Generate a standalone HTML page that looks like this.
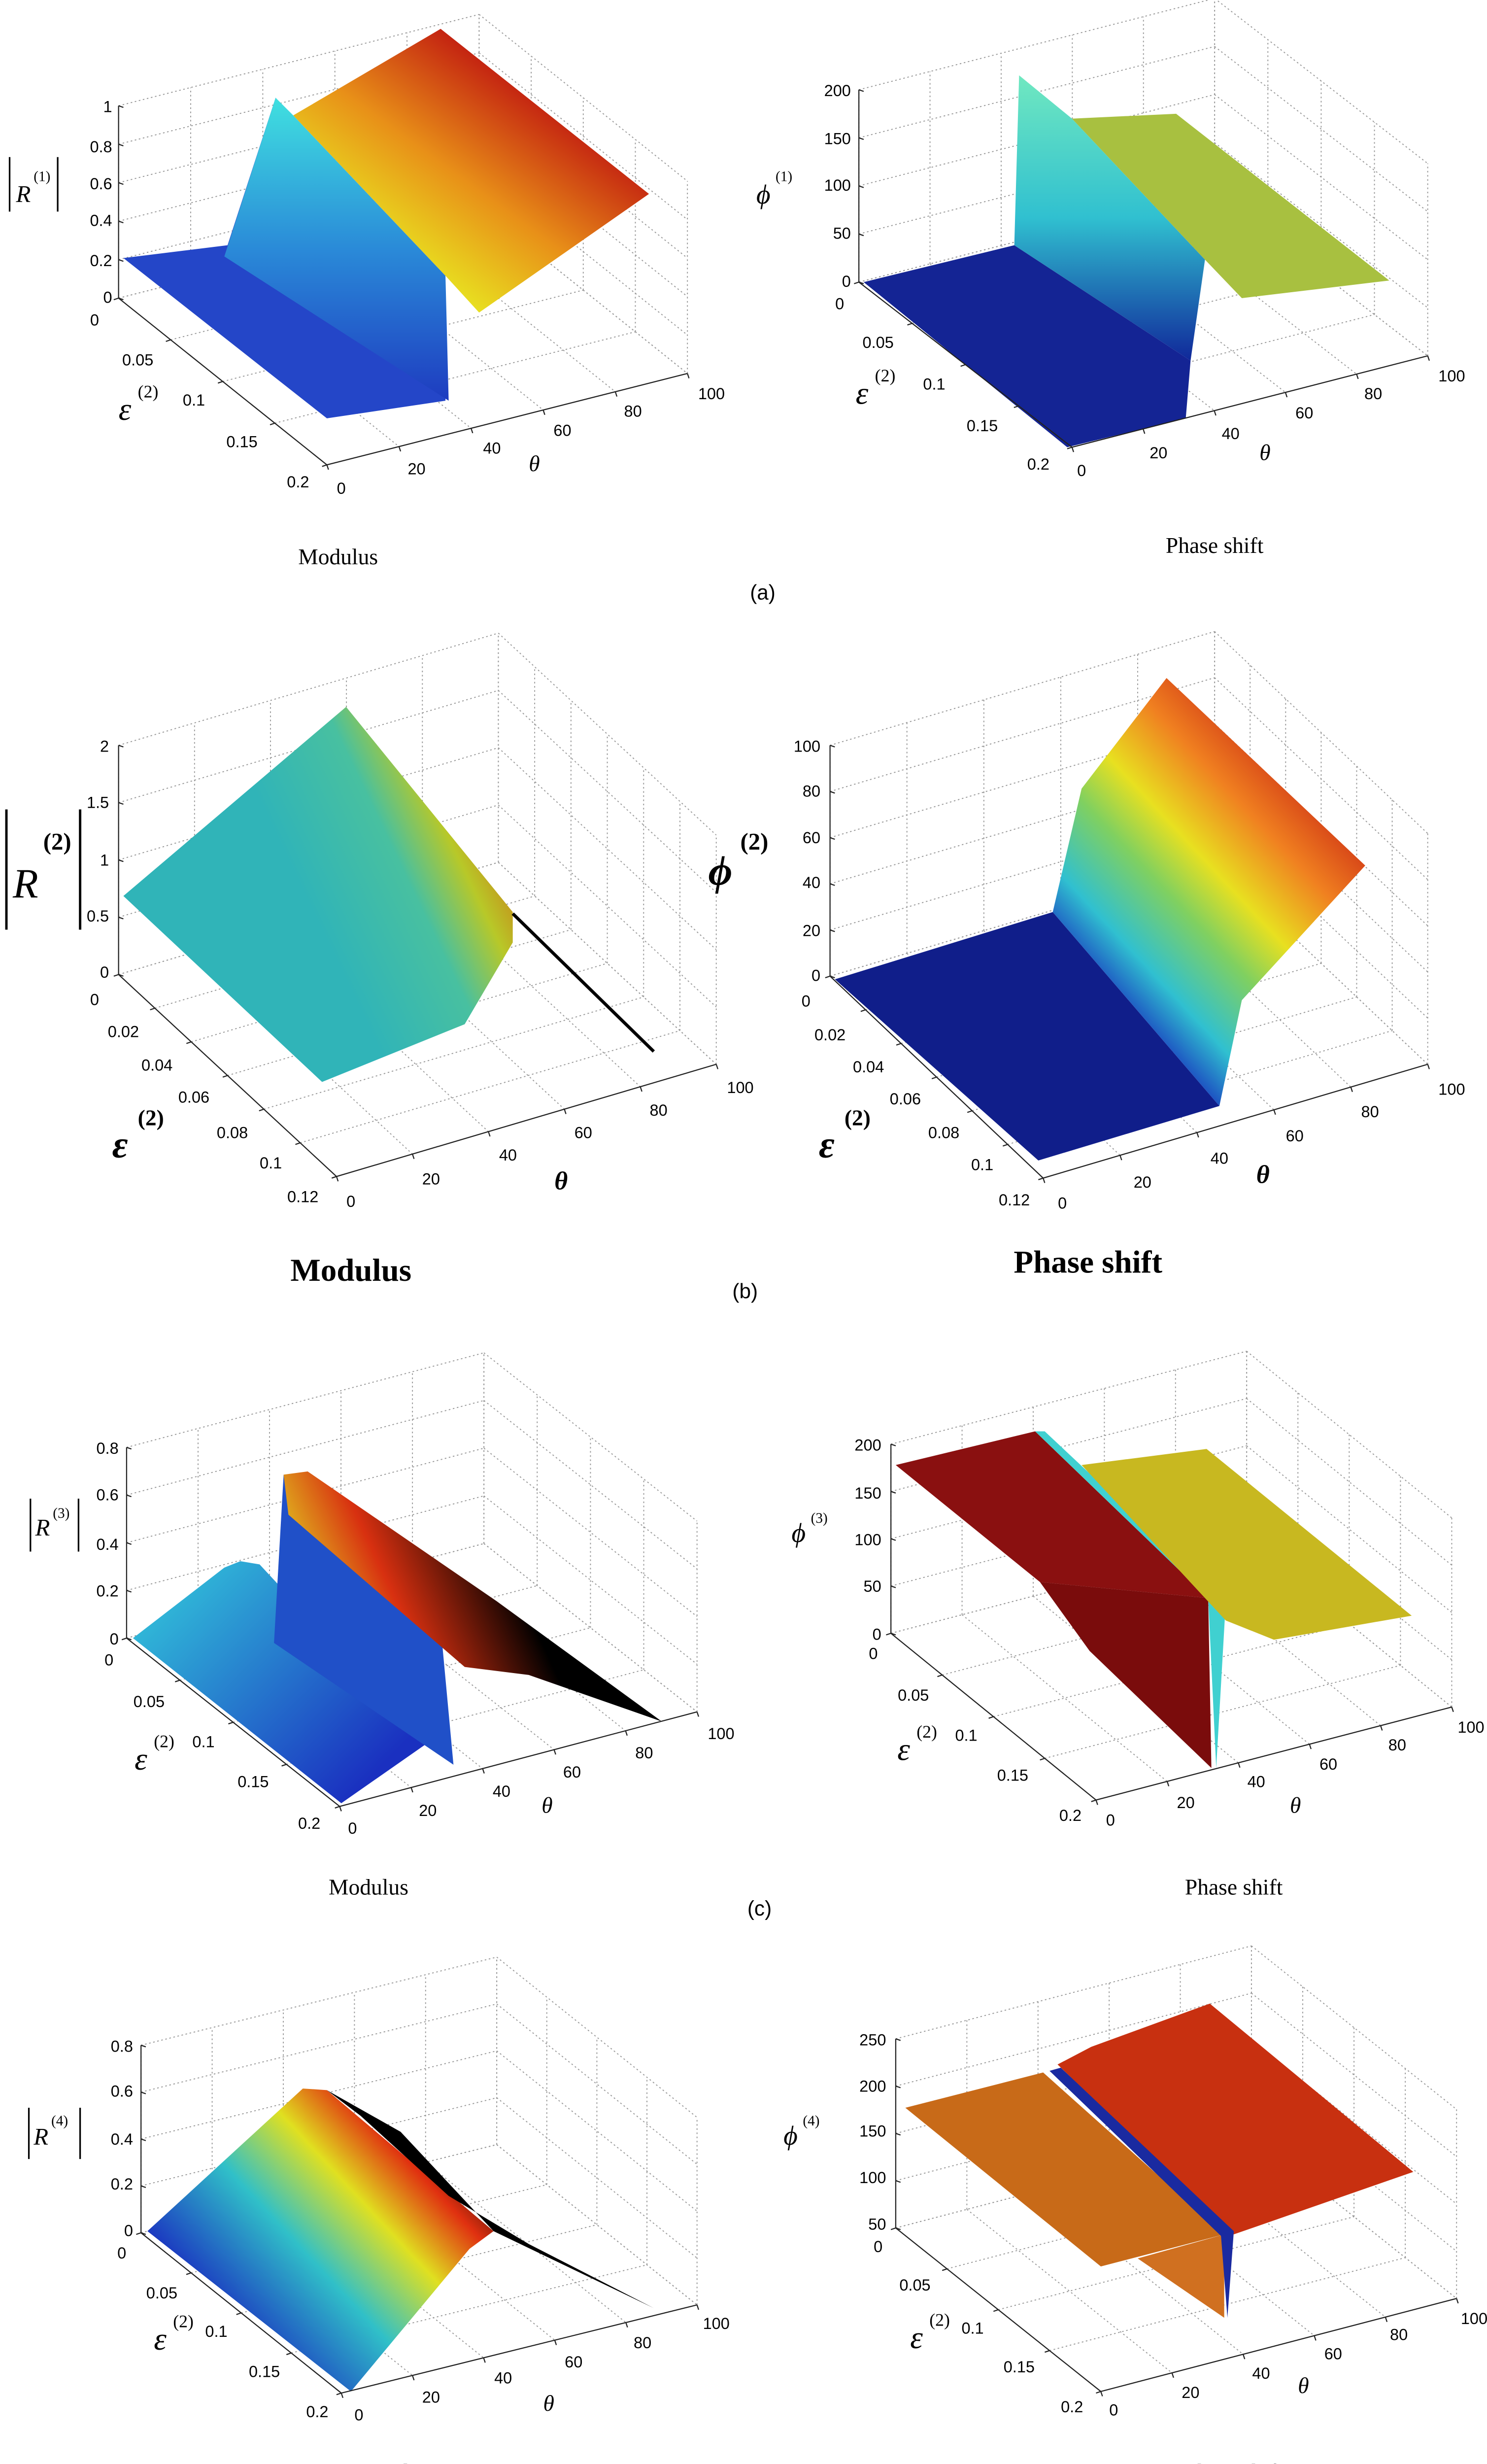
<!DOCTYPE html>
<html><head><meta charset="utf-8">
<style>
html,body{margin:0;padding:0;background:#fff;width:3018px;height:5100px;overflow:hidden;}
svg{display:block;}
.t{font-family:"Liberation Sans",sans-serif;font-size:10px;fill:#000;}
.ts{font-family:"Liberation Serif",serif;font-style:italic;fill:#000;}
.ti{font-family:"Liberation Serif",serif;font-size:14px;fill:#000;}
.tb{font-family:"Liberation Serif",serif;font-size:20px;font-weight:bold;fill:#000;}
.pl{font-family:"Liberation Sans",sans-serif;font-size:13px;fill:#000;}
</style></head>
<body>
<svg xmlns="http://www.w3.org/2000/svg" width="3018" height="5100" viewBox="0 0 928 1568" preserveAspectRatio="none">
<defs>
<linearGradient id="gaw" gradientUnits="userSpaceOnUse" x1="0" y1="61" x2="0" y2="250"><stop offset="0" stop-color="#40e0e0"/><stop offset="0.5" stop-color="#2a8ad8"/><stop offset="1" stop-color="#1e3cc0"/></linearGradient>
<linearGradient id="gao" gradientUnits="userSpaceOnUse" x1="285" y1="185" x2="365" y2="75"><stop offset="0" stop-color="#e8e020"/><stop offset="0.45" stop-color="#e89018"/><stop offset="1" stop-color="#c01810"/></linearGradient>
<linearGradient id="gbw" gradientUnits="userSpaceOnUse" x1="0" y1="47" x2="0" y2="225"><stop offset="0" stop-color="#70e8c0"/><stop offset="0.5" stop-color="#30c0d0"/><stop offset="1" stop-color="#10289a"/></linearGradient>
<linearGradient id="gbl" gradientUnits="userSpaceOnUse" x1="200" y1="580" x2="325" y2="520"><stop offset="0" stop-color="#30b4b8"/><stop offset="0.45" stop-color="#48c0a0"/><stop offset="0.7" stop-color="#b8c828"/><stop offset="1" stop-color="#d06010"/></linearGradient>
<linearGradient id="gbr" gradientUnits="userSpaceOnUse" x1="680" y1="610" x2="830" y2="470"><stop offset="0" stop-color="#1a40c0"/><stop offset="0.15" stop-color="#30c0d0"/><stop offset="0.35" stop-color="#80d060"/><stop offset="0.5" stop-color="#e8e020"/><stop offset="0.7" stop-color="#f08020"/><stop offset="1" stop-color="#c01010"/></linearGradient>
<linearGradient id="gcr" gradientUnits="userSpaceOnUse" x1="110" y1="990" x2="230" y2="1110"><stop offset="0" stop-color="#30b8d8"/><stop offset="1" stop-color="#1a30c0"/></linearGradient>
<linearGradient id="gct" gradientUnits="userSpaceOnUse" x1="190" y1="990" x2="300" y2="940"><stop offset="0" stop-color="#e0c020"/><stop offset="0.4" stop-color="#d83010"/><stop offset="1" stop-color="#000"/></linearGradient>
<linearGradient id="gdl" gradientUnits="userSpaceOnUse" x1="150" y1="1460" x2="290" y2="1330"><stop offset="0" stop-color="#1a30c0"/><stop offset="0.35" stop-color="#30c0c8"/><stop offset="0.6" stop-color="#e0e020"/><stop offset="0.8" stop-color="#e03010"/><stop offset="1" stop-color="#000"/></linearGradient>
</defs>
<g id="grid"></g>

<!-- (a) left -->
<polygon points="77,161 142,153 172,61 278,190 278,250 204,261" fill="#2446c8"/>
<polygon points="140,160 172,61 183,72 278,172 280,250" fill="url(#gaw)"/>
<polygon points="183,72 275,18 405,121 299,195 278,172" fill="url(#gao)"/>
<!-- (a) right -->
<polygon points="539,176 633,153 743,225 740,261 666,279" fill="#142494"/>
<polygon points="633,153 636,47 669,74 752,162 743,225" fill="url(#gbw)"/>
<polygon points="669,74 734,71 867,175 775,186 752,162" fill="#a8c040"/>
<!-- (b) left -->
<polygon points="77,559 216,441 320,569 320,588 290,639 201,675" fill="url(#gbl)"/>
<line x1="320" y1="570" x2="408" y2="656" stroke="#000" stroke-width="2"/>
<!-- (b) right -->
<polygon points="521,611 657,569 761,690 648,724" fill="#101e8a"/>
<polygon points="657,569 675,492 728,423 852,540 775,624 761,690" fill="url(#gbr)"/>
<!-- (c) left -->
<polygon points="83,1022 140,978 150,974 162,976 266,1088 213,1125" fill="url(#gcr)"/>
<polygon points="171,1025 177,920 275,1015 283,1101" fill="#2050c8"/>
<polygon points="177,920 192,918 310,999 413,1074 330,1045 290,1040 180,945" fill="url(#gct)"/>
<!-- (c) right -->
<polygon points="559,914 646,893 754,997 649,987" fill="#8a1010"/>
<polygon points="649,987 754,997 756,1103 680,1030" fill="#7a0c0c"/>
<polygon points="646,893 652,893 765,999 759,1103 754,997" fill="#40d0d0"/>
<polygon points="675,914 753,904 881,1008 795,1023 765,1011" fill="#c8b820"/>
<!-- (d) left -->
<polygon points="92,1392 189,1303 204,1304 308,1392 293,1403 219,1492" fill="url(#gdl)"/>
<polygon points="204,1304 250,1330 308,1392 408,1440 330,1400 280,1370 225,1320" fill="#000"/>
<!-- (d) right -->
<polygon points="565,1315 651,1293 764,1394 687,1414" fill="#c86a18"/>
<polygon points="710,1409 764,1394 764,1446" fill="#d07020"/>
<polygon points="660,1288 681,1277 755,1250 882,1355 770,1394" fill="#c83010"/>
<polygon points="655,1292 662,1290 770,1392 766,1446 762,1395" fill="#1a2aa0"/>

<g id="axes"></g>

<!-- ===== text (a) left ===== -->
<g class="t" text-anchor="end">
<text x="70" y="70">1</text><text x="70" y="95">0.8</text><text x="70" y="118">0.6</text><text x="70" y="141">0.4</text><text x="70" y="166">0.2</text><text x="70" y="189">0</text>
</g>
<g class="t" text-anchor="middle">
<text x="59" y="203">0</text><text x="86" y="228">0.05</text><text x="121" y="253">0.1</text><text x="151" y="279">0.15</text><text x="186" y="304">0.2</text>
<text x="213" y="308">0</text><text x="260" y="296">20</text><text x="307" y="283">40</text><text x="351" y="272">60</text><text x="395" y="260">80</text><text x="444" y="249">100</text>
</g>
<line x1="6" y1="98" x2="6" y2="132" stroke="#000" stroke-width="1"/><line x1="36" y1="98" x2="36" y2="132" stroke="#000" stroke-width="1"/>
<text class="ts" x="10" y="126" font-size="15">R</text><text class="ts" x="21" y="113" font-size="9" style="font-style:normal">(1)</text>
<text class="ts" x="74" y="262" font-size="20">ε</text><text class="ts" x="86" y="248" font-size="11" style="font-style:normal">(2)</text>
<text class="ts" x="330" y="294" font-size="14">θ</text>

<!-- (a) right -->
<g class="t" text-anchor="end">
<text x="531" y="60">200</text><text x="531" y="90">150</text><text x="531" y="119">100</text><text x="531" y="149">50</text><text x="531" y="179">0</text>
</g>
<g class="t" text-anchor="middle">
<text x="524" y="193">0</text><text x="548" y="217">0.05</text><text x="583" y="243">0.1</text><text x="613" y="269">0.15</text><text x="648" y="293">0.2</text>
<text x="675" y="297">0</text><text x="723" y="286">20</text><text x="768" y="274">40</text><text x="814" y="261">60</text><text x="857" y="249">80</text><text x="906" y="238">100</text>
</g>
<text class="ts" x="472" y="127" font-size="17">ϕ</text><text class="ts" x="484" y="113" font-size="9" style="font-style:normal">(1)</text>
<text class="ts" x="534" y="252" font-size="20">ε</text><text class="ts" x="546" y="238" font-size="11" style="font-style:normal">(2)</text>
<text class="ts" x="786" y="287" font-size="14">θ</text>

<text class="ti" x="211" y="352" text-anchor="middle">Modulus</text>
<text class="ti" x="758" y="345" text-anchor="middle">Phase shift</text>
<text class="pl" x="476" y="374" text-anchor="middle">(a)</text>

<!-- ===== (b) left ===== -->
<g class="t" text-anchor="end">
<text x="68" y="469">2</text><text x="68" y="504">1.5</text><text x="68" y="540">1</text><text x="68" y="575">0.5</text><text x="68" y="610">0</text>
</g>
<g class="t" text-anchor="middle">
<text x="59" y="627">0</text><text x="77" y="647">0.02</text><text x="98" y="668">0.04</text><text x="121" y="688">0.06</text><text x="145" y="710">0.08</text><text x="169" y="729">0.1</text><text x="189" y="750">0.12</text>
<text x="219" y="753">0</text><text x="269" y="739">20</text><text x="317" y="724">40</text><text x="364" y="710">60</text><text x="411" y="696">80</text><text x="462" y="682">100</text>
</g>
<line x1="4" y1="505" x2="4" y2="580" stroke="#000" stroke-width="1.5"/><line x1="50" y1="505" x2="50" y2="580" stroke="#000" stroke-width="1.5"/>
<text class="ts" x="8" y="560" font-size="26">R</text><text class="ts" x="27" y="530" font-size="15" style="font-style:normal;font-weight:bold">(2)</text>
<text class="ts" x="70" y="722" font-size="24" font-weight="bold">ε</text><text class="ts" x="86" y="702" font-size="14" style="font-style:normal;font-weight:bold">(2)</text>
<text class="ts" x="346" y="742" font-size="16" font-weight="bold">θ</text>

<!-- (b) right -->
<g class="t" text-anchor="end">
<text x="512" y="469">100</text><text x="512" y="497">80</text><text x="512" y="526">60</text><text x="512" y="554">40</text><text x="512" y="584">20</text><text x="512" y="612">0</text>
</g>
<g class="t" text-anchor="middle">
<text x="503" y="628">0</text><text x="518" y="649">0.02</text><text x="542" y="669">0.04</text><text x="565" y="689">0.06</text><text x="589" y="710">0.08</text><text x="613" y="730">0.1</text><text x="633" y="752">0.12</text>
<text x="663" y="754">0</text><text x="713" y="741">20</text><text x="761" y="726">40</text><text x="808" y="712">60</text><text x="855" y="697">80</text><text x="906" y="683">100</text>
</g>
<text class="ts" x="442" y="552" font-size="26" font-weight="bold">ϕ</text><text class="ts" x="462" y="530" font-size="15" style="font-style:normal;font-weight:bold">(2)</text>
<text class="ts" x="511" y="722" font-size="24" font-weight="bold">ε</text><text class="ts" x="527" y="702" font-size="14" style="font-style:normal;font-weight:bold">(2)</text>
<text class="ts" x="784" y="738" font-size="16" font-weight="bold">θ</text>

<text class="tb" x="219" y="799" text-anchor="middle">Modulus</text>
<text class="tb" x="679" y="794" text-anchor="middle">Phase shift</text>
<text class="pl" x="465" y="810" text-anchor="middle">(b)</text>

<!-- ===== (c) left ===== -->
<g class="t" text-anchor="end">
<text x="74" y="907">0.8</text><text x="74" y="936">0.6</text><text x="74" y="967">0.4</text><text x="74" y="996">0.2</text><text x="74" y="1026">0</text>
</g>
<g class="t" text-anchor="middle">
<text x="68" y="1039">0</text><text x="93" y="1065">0.05</text><text x="127" y="1090">0.1</text><text x="158" y="1115">0.15</text><text x="193" y="1141">0.2</text>
<text x="220" y="1144">0</text><text x="267" y="1133">20</text><text x="313" y="1121">40</text><text x="357" y="1109">60</text><text x="402" y="1097">80</text><text x="450" y="1085">100</text>
</g>
<line x1="19" y1="935" x2="19" y2="968" stroke="#000" stroke-width="1"/><line x1="49" y1="935" x2="49" y2="968" stroke="#000" stroke-width="1"/>
<text class="ts" x="22" y="958" font-size="15">R</text><text class="ts" x="33" y="947" font-size="9" style="font-style:normal">(3)</text>
<text class="ts" x="84" y="1104" font-size="20">ε</text><text class="ts" x="96" y="1090" font-size="11" style="font-style:normal">(2)</text>
<text class="ts" x="338" y="1131" font-size="14">θ</text>

<!-- (c) right -->
<g class="t" text-anchor="end">
<text x="550" y="905">200</text><text x="550" y="935">150</text><text x="550" y="964">100</text><text x="550" y="993">50</text><text x="550" y="1023">0</text>
</g>
<g class="t" text-anchor="middle">
<text x="545" y="1035">0</text><text x="570" y="1061">0.05</text><text x="603" y="1086">0.1</text><text x="632" y="1111">0.15</text><text x="668" y="1136">0.2</text>
<text x="693" y="1139">0</text><text x="740" y="1128">20</text><text x="784" y="1115">40</text><text x="829" y="1104">60</text><text x="872" y="1092">80</text><text x="918" y="1081">100</text>
</g>
<text class="ts" x="494" y="962" font-size="17">ϕ</text><text class="ts" x="506" y="950" font-size="9" style="font-style:normal">(3)</text>
<text class="ts" x="560" y="1098" font-size="20">ε</text><text class="ts" x="572" y="1084" font-size="11" style="font-style:normal">(2)</text>
<text class="ts" x="805" y="1131" font-size="14">θ</text>

<text class="ti" x="230" y="1182" text-anchor="middle">Modulus</text>
<text class="ti" x="770" y="1182" text-anchor="middle">Phase shift</text>
<text class="pl" x="474" y="1195" text-anchor="middle">(c)</text>

<!-- ===== (d) left ===== -->
<g class="t" text-anchor="end">
<text x="83" y="1280">0.8</text><text x="83" y="1308">0.6</text><text x="83" y="1338">0.4</text><text x="83" y="1366">0.2</text><text x="83" y="1395">0</text>
</g>
<g class="t" text-anchor="middle">
<text x="76" y="1409">0</text><text x="101" y="1434">0.05</text><text x="135" y="1458">0.1</text><text x="165" y="1483">0.15</text><text x="198" y="1508">0.2</text>
<text x="224" y="1510">0</text><text x="269" y="1499">20</text><text x="314" y="1487">40</text><text x="358" y="1477">60</text><text x="401" y="1465">80</text><text x="447" y="1453">100</text>
</g>
<line x1="18" y1="1315" x2="18" y2="1347" stroke="#000" stroke-width="1"/><line x1="50" y1="1315" x2="50" y2="1347" stroke="#000" stroke-width="1"/>
<text class="ts" x="21" y="1338" font-size="15">R</text><text class="ts" x="32" y="1326" font-size="9" style="font-style:normal">(4)</text>
<text class="ts" x="96" y="1466" font-size="20">ε</text><text class="ts" x="108" y="1452" font-size="11" style="font-style:normal">(2)</text>
<text class="ts" x="339" y="1504" font-size="14">θ</text>

<!-- (d) right -->
<g class="t" text-anchor="end">
<text x="553" y="1276">250</text><text x="553" y="1305">200</text><text x="553" y="1333">150</text><text x="553" y="1362">100</text><text x="553" y="1391">50</text>
</g>
<g class="t" text-anchor="middle">
<text x="548" y="1405">0</text><text x="571" y="1429">0.05</text><text x="607" y="1456">0.1</text><text x="636" y="1480">0.15</text><text x="669" y="1505">0.2</text>
<text x="695" y="1507">0</text><text x="743" y="1496">20</text><text x="787" y="1484">40</text><text x="832" y="1472">60</text><text x="873" y="1460">80</text><text x="920" y="1450">100</text>
</g>
<text class="ts" x="489" y="1338" font-size="17">ϕ</text><text class="ts" x="501" y="1326" font-size="9" style="font-style:normal">(4)</text>
<text class="ts" x="568" y="1465" font-size="20">ε</text><text class="ts" x="580" y="1451" font-size="11" style="font-style:normal">(2)</text>
<text class="ts" x="810" y="1493" font-size="14">θ</text>

<text class="ti" x="243" y="1547" text-anchor="middle">Modulus</text>
<text class="ti" x="770" y="1547" text-anchor="middle">Phase shift</text>
<text class="pl" x="484" y="1563" text-anchor="middle">(d)</text>
</svg>
<script>
(function(){
var NS="http://www.w3.org/2000/svg";
var grid=document.getElementById("grid"),axes=document.getElementById("axes");
function ln(g,a,b,st,w,dash){var l=document.createElementNS(NS,"line");l.setAttribute("x1",a[0]);l.setAttribute("y1",a[1]);l.setAttribute("x2",b[0]);l.setAttribute("y2",b[1]);l.setAttribute("stroke",st);l.setAttribute("stroke-width",w);if(dash)l.setAttribute("stroke-dasharray",dash);g.appendChild(l);}
function lerp(a,b,t){return [a[0]+(b[0]-a[0])*t,a[1]+(b[1]-a[1])*t];}
function up(p,h){return [p[0],p[1]-h];}
var P=[
[[74,186],[204,290],[429,233],120,5,4,5],
[[536,176],[669,279],[891,222],120,4,4,5],
[[74,608],[210,734],[447,664],143,4,6,5],
[[518,609],[651,735],[891,664],144,5,6,5],
[[79,1022],[212,1127],[435,1068],119,4,4,5],
[[556,1019],[684,1123],[906,1065],118,4,4,5],
[[88,1393],[213,1493],[435,1438],117,4,4,5],
[[559,1390],[687,1492],[909,1434],118,4,4,5]
];
P.forEach(function(p){
var L=p[0],F=p[1],R=p[2],h=p[3],nz=p[4],ne=p[5],nt=p[6];
var B=[L[0]+R[0]-F[0],L[1]+R[1]-F[1]];
var c="#9a9a9a",w=0.6,d="1,1.6";
for(var k=0;k<=nz;k++){var z=h*k/nz;ln(grid,up(L,z),up(B,z),c,w,d);ln(grid,up(B,z),up(R,z),c,w,d);}
for(var j=0;j<=nt;j++){var t=j/nt;var a=lerp(L,B,t);ln(grid,a,up(a,h),c,w,d);ln(grid,a,lerp(F,R,t),c,w,d);}
for(var i=0;i<=ne;i++){var s=i/ne;var b=lerp(B,R,s);ln(grid,b,up(b,h),c,w,d);ln(grid,lerp(L,F,s),b,c,w,d);}
ln(axes,L,up(L,h),"#222",0.7);ln(axes,L,F,"#222",0.7);ln(axes,F,R,"#222",0.7);
for(var k2=0;k2<=nz;k2++){var q=up(L,h*k2/nz);ln(axes,q,[q[0]+3,q[1]+1],"#222",0.7);}
for(var i2=0;i2<=ne;i2++){var q2=lerp(L,F,i2/ne);ln(axes,q2,[q2[0]-3,q2[1]+1],"#222",0.7);}
for(var j2=0;j2<=nt;j2++){var q3=lerp(F,R,j2/nt);ln(axes,q3,[q3[0]+1,q3[1]+3],"#222",0.7);}
});
})();
</script>
</body></html>
